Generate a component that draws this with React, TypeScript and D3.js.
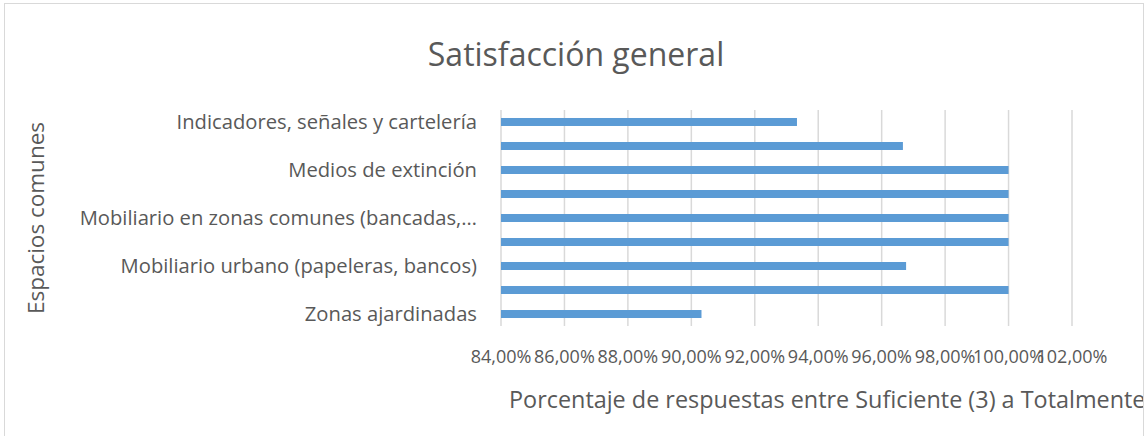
import React from 'react';
import * as d3 from 'd3';

// categories top to bottom, only every other label is printed (like the Excel chart)
const categories = [
  'Indicadores, señales y cartelería',
  'Limpieza',
  'Medios de extinción',
  'Mobiliario en aulas',
  'Mobiliario en zonas comunes (bancadas, mesas)',
  'Mobiliario en zonas exteriores',
  'Mobiliario urbano (papeleras, bancos)',
  'Pavimentos y accesos',
  'Zonas ajardinadas',
];
const shownLabels = [
  'Indicadores, señales y cartelería',
  '',
  'Medios de extinción',
  '',
  'Mobiliario en zonas comunes (bancadas,…',
  '',
  'Mobiliario urbano (papeleras, bancos)',
  '',
  'Zonas ajardinadas',
];
const values = [0.9333, 0.9667, 1, 1, 1, 1, 0.9677, 1, 0.9032];
const ticks = [0.84, 0.86, 0.88, 0.9, 0.92, 0.94, 0.96, 0.98, 1, 1.02];

const title = 'Satisfacción general';
const yTitle = 'Espacios comunes';
const xTitle = 'Porcentaje de respuestas entre Suficiente (3) a Totalmente satisfecho (5)';

const width = 1146;
const height = 436;
const margin = { top: 110, right: 74, bottom: 110, left: 501 };
const font = '"Open Sans", "Liberation Sans", sans-serif';
const textColor = '#595959';

const fmt = (v: number) => (v * 100).toFixed(2).replace('.', ',') + '%';

export default function App() {
  const x = d3.scaleLinear()
    .domain([0.84, 1.02])
    .range([margin.left, width - margin.right]);

  const y = d3.scaleBand()
    .domain(categories)
    .range([margin.top, height - margin.bottom])
    .paddingInner(0.667)
    .paddingOuter(0.333);

  return (
    <svg
      width={width}
      height={height}
      style={{ position: 'absolute', left: 0, top: 0, background: '#fff' }}
      fontFamily={font}
    >
      <defs>
        <clipPath id="frame">
          <rect x={4} y={3} width={1139} height={440} />
        </clipPath>
      </defs>
      <rect x={4.5} y={3.5} width={1139} height={440} fill="#fff" stroke="#d9d9d9" />

      <text x={576} y={66} textAnchor="middle" fontSize={32} fill={textColor}>
        {title}
      </text>

      {/* gridlines */}
      {ticks.map(t => (
        <line
          key={t}
          x1={x(t)}
          x2={x(t)}
          y1={margin.top}
          y2={height - margin.bottom}
          stroke="#d9d9d9"
          strokeWidth={1.5}
        />
      ))}

      {/* bars */}
      {categories.map((c, i) => (
        <rect
          key={c}
          x={x(0.84)}
          y={y(c)}
          width={x(values[i]) - x(0.84)}
          height={y.bandwidth()}
          fill="#5b9bd5"
        />
      ))}

      {/* category labels */}
      {categories.map((c, i) => shownLabels[i] ? (
        <text
          key={c}
          x={477}
          y={(y(c) as number) + y.bandwidth() / 2 + 7}
          textAnchor="end"
          fontSize={20.2}
          fill={textColor}
        >
          {shownLabels[i]}
        </text>
      ) : null)}

      {/* tick labels */}
      {ticks.map(t => (
        <text key={t} x={x(t)} y={363} textAnchor="middle" fontSize={18} fill={textColor}>
          {fmt(t)}
        </text>
      ))}

      <text
        transform={`translate(44,${(margin.top + height - margin.bottom) / 2}) rotate(-90)`}
        textAnchor="middle"
        fontSize={22.5}
        fill={textColor}
      >
        {yTitle}
      </text>

      {/* axis title is wider than the chart frame and gets cut, as in the original */}
      <g clipPath="url(#frame)">
        <text x={509} y={408} fontSize={23.4} fill={textColor}>
          {xTitle}
        </text>
      </g>
    </svg>
  );
}
